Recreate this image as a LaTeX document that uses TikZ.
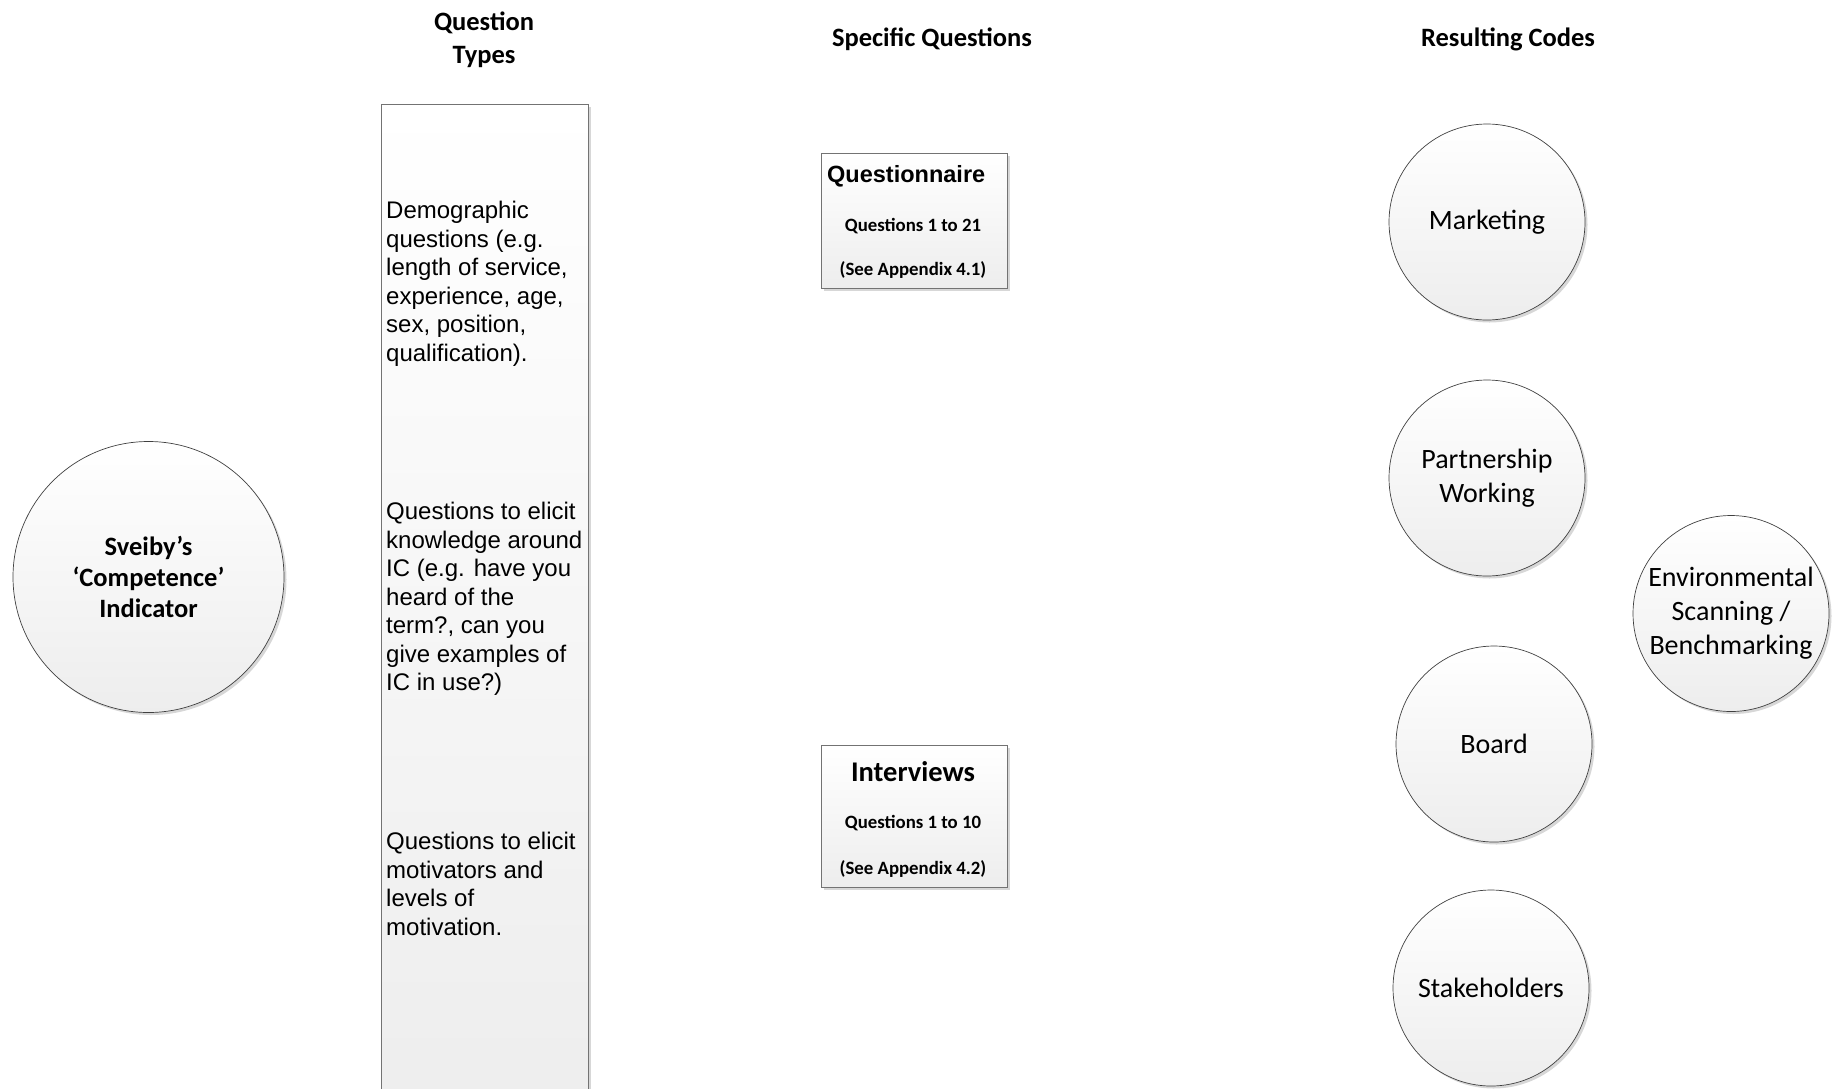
\documentclass[tikz,border=0pt]{standalone}
\usepackage{fontspec}
\setmainfont{Carlito}
\newfontfamily\arialfont{Liberation Sans}
\usetikzlibrary{shadows}

\begin{document}
\begin{tikzpicture}[x=1pt,y=-1pt,
  header/.style={font=\fontsize{26.5}{33}\selectfont\bfseries, align=center, inner sep=0pt},
  softshadow/.style={drop shadow={shadow xshift=2.5pt, shadow yshift=-2.5pt, fill=black!35, opacity=0.45}},
  code/.style={circle, draw=black!75, line width=0.7pt, minimum size=196pt, inner sep=0pt,
    top color=white, bottom color=black!7, softshadow,
    font=\fontsize{28}{34}\selectfont, align=center},
  panel/.style={rectangle, draw=black!55, line width=0.8pt, inner sep=0pt,
    top color=white, bottom color=black!7, softshadow},
  qtext/.style={font=\arialfont\fontsize{24}{28.5}\selectfont, align=left, inner sep=0pt, anchor=west},
  small/.style={font=\fontsize{18.8}{22}\selectfont\bfseries, inner sep=0pt},
]
\useasboundingbox (0,0) rectangle (1834,1088);

% column headings
\node[header] (hTypes) at (484,40) {Question\\Types};
\node[header] (hSpec) at (932,39) {Specific Questions};
\node[header] (hCodes) at (1508,39) {Resulting Codes};

% competence indicator
\node[code, minimum size=271pt, font=\fontsize{26.5}{31}\selectfont\bfseries] (sveiby) at (148.5,577)
  {Sveiby’s\\‘Competence’\\Indicator};

% question types column
\node[panel, anchor=north west, minimum width=207pt, minimum height=1010pt] (types) at (381,104) {};
\node[qtext] (demo) at (386,284) {Demographic\\questions (e.g.\\length of service,\\experience, age,\\sex, position,\\qualification).};
\node[qtext] (know) at (386,599) {Questions to elicit\\knowledge around\\IC (e.g. have you\\heard of the\\term?, can you\\give examples of\\IC in use?)};
\node[qtext] (motiv) at (386,884) {Questions to elicit\\motivators and\\levels of\\motivation.};

% specific questions
\node[panel, anchor=north west, minimum width=186pt, minimum height=135pt] (quest) at (821,153) {};
\node[font=\arialfont\fontsize{23.5}{28}\selectfont\bfseries, inner sep=0pt, anchor=west] (questT) at (827,176) {Questionnaire};
\node[small] (quest1) at (913,226) {Questions 1 to 21};
\node[small] (quest2) at (913,270) {(See Appendix 4.1)};

\node[panel, anchor=north west, minimum width=186pt, minimum height=142pt] (inter) at (821,745) {};
\node[font=\fontsize{28.5}{32}\selectfont\bfseries, inner sep=0pt] (interT) at (913,772) {Interviews};
\node[small] (inter1) at (913,823) {Questions 1 to 10};
\node[small] (inter2) at (913,869) {(See Appendix 4.2)};

% resulting codes
\node[code] (mark) at (1487,222) {Marketing};
\node[code] (part) at (1487,478) {Partnership\\Working};
\node[code] (board) at (1494,744) {Board};
\node[code] (stake) at (1491,988) {Stakeholders};
\node[code] (env) at (1731,613.5) {Environmental\\Scanning /\\Benchmarking};
\end{tikzpicture}
\end{document}
